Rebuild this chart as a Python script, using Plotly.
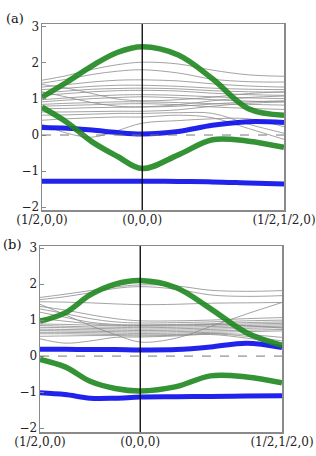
import plotly.graph_objects as go

# k-path positions (distance along path) and labels
K = [0.0, 0.125, 0.25, 0.375, 0.5, 0.68, 0.85, 1.03, 1.2071]
TICK_POS = [0.0, 0.5, 1.2071]
TICK_LABELS = ["(1/2,0,0)", "(0,0,0)", "(1/2,1/2,0)"]
Y_TICKS = [-2, -1, 0, 1, 2, 3]
Y_LABELS = ["\u22122", "\u22121", "0", "1", "2", "3"]

# ---------------- panel (a) ----------------
gray_a = [
    [1.52, 1.65, 1.82, 1.95, 2.02, 1.97, 1.80, 1.67, 1.63],
    [1.44, 1.55, 1.68, 1.77, 1.81, 1.72, 1.55, 1.48, 1.47],
    [1.33, 1.40, 1.47, 1.52, 1.53, 1.50, 1.42, 1.36, 1.33],
    [1.26, 1.30, 1.35, 1.38, 1.38, 1.35, 1.30, 1.27, 1.26],
    [1.17, 1.22, 1.27, 1.29, 1.30, 1.28, 1.23, 1.20, 1.19],
    [1.10, 1.15, 1.20, 1.23, 1.24, 1.22, 1.16, 1.12, 1.10],
    [0.98, 1.03, 1.08, 1.11, 1.12, 1.10, 1.06, 1.03, 1.01],
    [0.92, 0.97, 1.01, 1.04, 1.06, 1.03, 0.98, 0.94, 0.92],
    [0.85, 0.88, 0.90, 0.92, 0.92, 0.90, 0.87, 0.85, 0.83],
    [0.80, 0.82, 0.84, 0.86, 0.87, 0.84, 0.78, 0.74, 0.71],
    [0.73, 0.74, 0.76, 0.77, 0.78, 0.84, 0.95, 1.04, 1.08],
    [0.64, 0.64, 0.65, 0.66, 0.66, 0.70, 0.80, 0.88, 0.92],
    [0.55, 0.56, 0.58, 0.60, 0.60, 0.62, 0.60, 0.30, 0.05],
    [0.41, 0.45, 0.48, 0.50, 0.50, 0.55, 0.48, 0.18, -0.12],
    [0.30, 0.05, -0.06, 0.12, 0.33, 0.40, 0.45, 0.45, 0.23],
    [1.40, 1.30, 1.15, 1.00, 0.95, 0.98, 1.05, 1.15, 1.20],
    [1.20, 1.05, 0.90, 0.80, 0.78, 0.80, 0.86, 0.92, 0.95],
]
green_a = [
    [1.05, 1.47, 1.92, 2.29, 2.45, 2.22, 1.56, 0.73, 0.55],
    [0.77, 0.35, -0.19, -0.59, -0.93, -0.55, -0.13, -0.17, -0.34],
]
blue_a = [
    [0.21, 0.19, 0.14, 0.07, 0.03, 0.10, 0.27, 0.37, 0.35],
    [-1.28, -1.28, -1.28, -1.28, -1.28, -1.29, -1.30, -1.33, -1.36],
]

# ---------------- panel (b) ----------------
gray_b = [
    [1.63, 1.72, 1.82, 1.92, 1.98, 1.95, 1.83, 1.80, 1.82],
    [1.57, 1.65, 1.76, 1.88, 1.93, 1.86, 1.70, 1.66, 1.68],
    [1.51, 1.50, 1.48, 1.45, 1.43, 1.44, 1.47, 1.48, 1.49],
    [1.44, 1.15, 0.85, 0.60, 0.39, 0.50, 0.82, 1.17, 1.49],
    [1.38, 1.28, 1.15, 1.04, 0.98, 0.98, 1.00, 1.04, 1.07],
    [1.31, 1.18, 1.04, 0.95, 0.92, 0.93, 0.95, 0.98, 1.00],
    [1.22, 1.08, 0.94, 0.88, 0.87, 0.88, 0.90, 0.93, 0.95],
    [0.89, 0.88, 0.86, 0.84, 0.83, 0.84, 0.86, 0.89, 0.91],
    [0.85, 0.83, 0.81, 0.80, 0.79, 0.80, 0.82, 0.85, 0.87],
    [0.80, 0.79, 0.77, 0.76, 0.75, 0.76, 0.78, 0.81, 0.83],
    [0.75, 0.74, 0.73, 0.72, 0.71, 0.72, 0.74, 0.77, 0.79],
    [0.71, 0.70, 0.69, 0.68, 0.67, 0.68, 0.70, 0.72, 0.74],
    [0.66, 0.66, 0.65, 0.64, 0.63, 0.64, 0.66, 0.68, 0.70],
    [0.62, 0.62, 0.61, 0.60, 0.59, 0.60, 0.63, 0.60, 0.52],
    [0.55, 0.56, 0.57, 0.57, 0.56, 0.58, 0.62, 0.55, 0.42],
    [0.48, 0.36, 0.42, 0.52, 0.53, 0.56, 0.60, 0.50, 0.36],
    [1.05, 0.97, 0.90, 0.86, 0.85, 0.86, 0.88, 0.84, 0.78],
]
green_b = [
    [0.97, 1.20, 1.70, 2.00, 2.10, 1.90, 1.32, 0.65, 0.30],
    [-0.09, -0.30, -0.70, -0.90, -0.97, -0.85, -0.55, -0.58, -0.74],
]
blue_b = [
    [0.19, 0.19, 0.18, 0.18, 0.17, 0.18, 0.25, 0.36, 0.24],
    [-1.02, -1.07, -1.17, -1.17, -1.14, -1.13, -1.12, -1.11, -1.10],
]

GRAY = "rgba(140,140,140,0.8)"
GREEN = "rgba(30,135,30,0.9)"
BLUE = "rgba(10,10,235,0.9)"
FONT = "DejaVu Serif"

fig = go.Figure()

panels = [
    ("x", "y", gray_a, green_a, blue_a),
    ("x2", "y2", gray_b, green_b, blue_b),
]
for xa, ya, gray, green, blue in panels:
    for band in gray:
        fig.add_trace(go.Scatter(x=K, y=band, xaxis=xa, yaxis=ya, mode="lines",
                                 line=dict(color=GRAY, width=1, shape="spline", smoothing=1.0),
                                 hoverinfo="skip", showlegend=False))
    for band in blue:
        fig.add_trace(go.Scatter(x=K, y=band, xaxis=xa, yaxis=ya, mode="lines",
                                 line=dict(color=BLUE, width=5, shape="spline", smoothing=1.0),
                                 hoverinfo="skip", showlegend=False))
    for band in green:
        fig.add_trace(go.Scatter(x=K, y=band, xaxis=xa, yaxis=ya, mode="lines",
                                 line=dict(color=GREEN, width=5.5, shape="spline", smoothing=1.0),
                                 hoverinfo="skip", showlegend=False))

axis_common = dict(showgrid=False, zeroline=False, showline=True, mirror=True,
                   linecolor="#8a8a8a", linewidth=1.5, automargin=False)
xcommon = dict(axis_common, range=[0, 1.2071], tickvals=TICK_POS, ticktext=TICK_LABELS,
               ticks="", ticklabelstandoff=-2,
               tickfont=dict(family=FONT, size=12, color="#222"))
ycommon = dict(axis_common, tickvals=Y_TICKS, ticktext=Y_LABELS, ticks="inside",
               ticklen=4, tickcolor="#8a8a8a", ticklabelstandoff=-1,
               tickfont=dict(family=FONT, size=12, color="#222"))

fig.update_layout(
    width=316, height=456, margin=dict(l=0, r=0, t=0, b=0, autoexpand=False),
    paper_bgcolor="white", plot_bgcolor="white",
    xaxis=dict(xcommon, domain=[42/316, 284/316], anchor="y"),
    yaxis=dict(ycommon, domain=[1-210/456, 1-24/456], range=[-2.08, 3.08], anchor="x"),
    xaxis2=dict(xcommon, domain=[40/316, 282/316], anchor="y2"),
    yaxis2=dict(ycommon, domain=[1-432/456, 1-246/456], range=[-2.11, 3.06], anchor="x2"),
)

for xa, ya in [("x", "y"), ("x2", "y2")]:
    fig.add_shape(type="line", xref=xa, yref=ya + " domain", x0=0.5, x1=0.5, y0=0, y1=1,
                  line=dict(color="black", width=1.3))
    fig.add_shape(type="line", xref=xa + " domain", yref=ya, x0=0, x1=1, y0=0, y1=0,
                  line=dict(color="#777", width=1, dash="dash"))

fig.add_annotation(text="(a)", xref="paper", yref="paper", x=15/316, y=1-19/456,
                   xanchor="center", yanchor="middle", showarrow=False,
                   font=dict(family=FONT, size=13, color="#111"))
fig.add_annotation(text="(b)", xref="paper", yref="paper", x=12/316, y=1-244/456,
                   xanchor="center", yanchor="middle", showarrow=False,
                   font=dict(family=FONT, size=13, color="#111"))

fig.write_html("out.html", config={"displayModeBar": False, "staticPlot": True},
               post_script="document.body.style.margin='0';document.body.style.overflow='hidden';")
